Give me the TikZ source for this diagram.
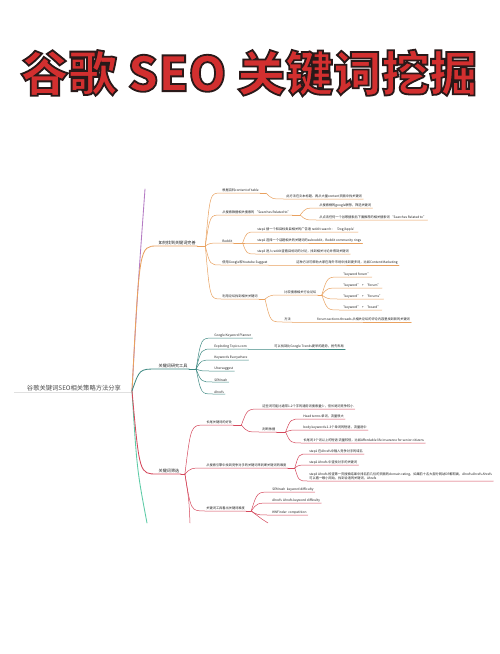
\documentclass[tikz,border=0pt]{standalone}
\usepackage{fontspec}
\newfontfamily\cjk{Noto Sans CJK SC}
\usetikzlibrary{calc}
\definecolor{org}{HTML}{E9A15F}
\definecolor{tea}{HTML}{3F8A83}
\definecolor{crm}{HTML}{D5485C}
\definecolor{pur}{HTML}{B57BC4}
\definecolor{grn}{HTML}{5CCBA6}
\definecolor{ttl}{HTML}{D22F2F}
\definecolor{txt}{HTML}{1E1E1E}
\tikzset{
  lf/.style={font=\cjk\fontsize{3.2}{3.9}\selectfont, text=txt, anchor=south west, inner xsep=1.2pt, inner ysep=0.6pt},
  lone/.style={font=\cjk\fontsize{4.1}{4.8}\selectfont, text=txt, anchor=south west, inner xsep=1.5pt, inner ysep=0.8pt},
  thin/.style={line width=0.5pt, line cap=round},
  thick/.style={line width=0.85pt, line cap=round},
}
% curved connector from a point to the lower-left corner of a node, then its underline
\newcommand\br[4]{\draw[#1,#2] (#3) .. controls ($(#3 |- #4.south west)!0.3!(#4.south west)$) .. (#4.south west) -- (#4.south east);}
% underline extension to a hub point
\newcommand\hb[4]{\coordinate (#3) at ($(#2.south east)+(#4,0)$); \draw[thin,#1] (#2.south east) -- (#3);}
\begin{document}
\begin{tikzpicture}[x=1pt,y=-1pt]
\fill[white] (0,0) rectangle (500,654);
\useasboundingbox (0,0) rectangle (500,654);

% ---------- root ----------
\node[font=\cjk\fontsize{6.3}{7}\selectfont, text=black!70, anchor=south west, inner sep=0.8pt] (root) at (26,392) {谷歌关键词SEO相关策略方法分享};
\draw[black!12, line width=0.6pt] (14,392.5) -- (131,392.5);
\coordinate (R) at (132,391);

% unlabeled trunks
\coordinate (ptop) at (145,189);
\coordinate (gbot) at (147,523);
\draw[thick,pur] (R) .. controls (137,300) .. (ptop);
\draw[thick,grn] (R) .. controls (137,470) .. (gbot);

% ---------- level 1 ----------
\node[lone] (O1) at (157,246) {如何找到关键词完善};
\node[lone] (T1) at (157,369) {关键词研究工具};
\node[lone] (C1) at (157,474) {关键词筛选};
\br{thick}{org}{R}{O1}
\br{thick}{tea}{R}{T1}
\br{thick}{crm}{R}{C1}
\hb{thick,org}{O1}{HO}{8}
\hb{thick,tea}{T1}{HT}{7}
\hb{thick,crm}{C1}{HC}{4}

% ---------- orange branch ----------
\node[lf] (O2a) at (221,193) {根据百科content of table};
\node[lf] (O2b) at (221,215) {从搜索数据相关搜索的 “Searches Related to”};
\node[lf] (O2c) at (221,243) {Reddit};
\node[lf] (O2d) at (221,265) {使用Google和Youtube Suggest};
\node[lf] (O2e) at (221,299) {利用论坛找到相关关键词};
\foreach \n in {O2a,O2b,O2c,O2d,O2e} {\br{thin}{org}{HO}{\n}}

\hb{org}{O2a}{HOa}{6}
\node[lf] (O3a) at (285,199) {此方法在文本标题、再从大量content页面中找关键词};
\br{thin}{org}{HOa}{O3a}

\hb{org}{O2b}{HOb}{8}
\node[lf] (O3b1) at (318,208) {从搜索框的google联想，筛选关键词};
\node[lf] (O3b2) at (318,220) {从点击任何一个谷歌搜索后下面推荐的相关搜索词 “Searches Related to”};
\br{thin}{org}{HOb}{O3b1}
\br{thin}{org}{HOb}{O3b2}

\hb{org}{O2c}{HOc}{9}
\node[lf] (O3c1) at (256,232) {step1 搜一个和目标类目相关的广告语 reddit search：‘Dog/Apple’};
\node[lf] (O3c2) at (256,243) {step2 选择一个话题相关的关键词的subreddit，Reddit community rings};
\node[lf] (O3c3) at (256,254) {step3 进入reddit查看目标词的讨论，找到相关讨论并得到关键词};
\foreach \n in {O3c1,O3c2,O3c3} {\br{thin}{org}{HOc}{\n}}

\node[lf] (O3d) at (295,265) {这种方法可帮助大家在海外市场中找到更多词，比如Content Marketing};
\draw[thin,org] (O2d.south east) -- (O3d.south west) -- (O3d.south east);

\hb{org}{O2e}{HOe}{6}
\node[lf] (O3e1) at (283,295) {比较搜索相关行业论坛};
\node[lf] (O3e2) at (283,322) {方法};
\br{thin}{org}{HOe}{O3e1}
\br{thin}{org}{HOe}{O3e2}
\hb{org}{O3e1}{HOf}{4}
\node[lf] (O4a) at (340,277) {“keyword forum”};
\node[lf] (O4b) at (340,288) {“keyword”\ \ +\ \ “forum”};
\node[lf] (O4c) at (340,299) {“keyword”\ \ +\ \ “forums”};
\node[lf] (O4d) at (340,310) {“keyword”\ \ +\ \ “board”};
\foreach \n in {O4a,O4b,O4c,O4d} {\br{thin}{org}{HOf}{\n}}
\node[lf] (O4e) at (316,322) {forum sections threads 从相关论坛的评论内容里找到新的关键词};
\draw[thin,org] (O3e2.south east) -- (O4e.south west) -- (O4e.south east);

% ---------- teal branch ----------
\node[lf] (T2a) at (213,338) {Google Keyword Planner};
\node[lf] (T2b) at (213,349) {Exploding Topics.com};
\node[lf] (T2c) at (213,360) {Keywords Everywhere};
\node[lf] (T2d) at (213,371) {Ubersuggest};
\node[lf] (T2e) at (213,382) {SEMrush};
\node[lf] (T2f) at (213,394) {Ahrefs};
\foreach \n in {T2a,T2b,T2c,T2d,T2e,T2f} {\br{thin}{tea}{HT}{\n}}
\node[lf] (T3b) at (273,349) {可以找到比Google Trends更早的趋势，抢先布局};
\draw[thin,tea] (T2b.south east) -- (T3b.south west) -- (T3b.south east);

% ---------- crimson branch ----------
\node[lf] (C2a) at (205,425) {长尾关键词的好处};
\node[lf] (C2b) at (205,468) {从搜索引擎中找到竞争对手的关键词来判断关键词的难度};
\node[lf] (C2c) at (205,511) {关键词工具看出关键词难度};
\foreach \n in {C2a,C2b,C2c} {\br{thin}{crm}{HC}{\n}}
\coordinate (Cdown) at (190,523);
\draw[thin,crm] (HC) .. controls (189,500) .. (Cdown);

\hb{crm}{C2a}{HCa}{8}
\node[lf] (C3a1) at (261,409) {这些词可能比通常1-2个字的通用词搜索量少，但长尾词竞争较小};
\node[lf] (C3a2) at (261,432) {判断依据};
\br{thin}{crm}{HCa}{C3a1}
\br{thin}{crm}{HCa}{C3a2}
\hb{crm}{C3a2}{HCb}{9}
\node[lf] (C4a) at (302,419) {Head terms 单词，流量很大};
\node[lf] (C4b) at (302,430) {body keywords 2-3个单词的短语，流量适中};
\node[lf] (C4c) at (302,443) {长尾词 3个词以上的短语 流量较低，比如Affordable life insurance for senior citizens};
\foreach \n in {C4a,C4b,C4c} {\br{thin}{crm}{HCb}{\n}}

\hb{crm}{C2b}{HCc}{7}
\node[lf] (C3b1) at (308,454) {step1 在Ahrefs中输入竞争对手的域名};
\node[lf] (C3b2) at (308,465) {step2 Ahrefs 中查找对手的关键词};
\node[lf, align=left] (C3b3) at (308,481) {step3 Ahrefs 检查第一页搜索结果中排名前几位的页面的domain rating，如果前十名大部分网站DR都较高，Ahrefs Ahrefs Ahrefs\\可以看一眼小网站，找到合适的关键词，Ahrefs};
\foreach \n in {C3b1,C3b2,C3b3} {\br{thin}{crm}{HCc}{\n}}

\hb{crm}{C2c}{HCd}{5}
\node[lf] (C3c1) at (271,492) {SEMrush\ \ keyword difficulty};
\node[lf] (C3c2) at (271,503) {Ahrefs\ \ Ahrefs keyword difficulty};
\node[lf] (C3c3) at (271,515) {KWFinder\ \ competition};
\foreach \n in {C3c1,C3c2,C3c3} {\br{thin}{crm}{HCd}{\n}}
\coordinate (Cdown2) at (268,523);
\draw[thin,crm] (HCd) .. controls (263,520) .. (Cdown2);

% ---------- title (drawn last: outlined red text) ----------
\node[font=\cjk\bfseries\fontsize{48}{52}\selectfont, text=ttl, inner sep=0pt] (title) at (249,73)
  {\special{pdf:literal direct 2 Tr 1.8 w 0.16 0.10 0.10 RG}谷歌 SEO 关键词挖掘\special{pdf:literal direct 0 Tr}};
\end{tikzpicture}
\end{document}
